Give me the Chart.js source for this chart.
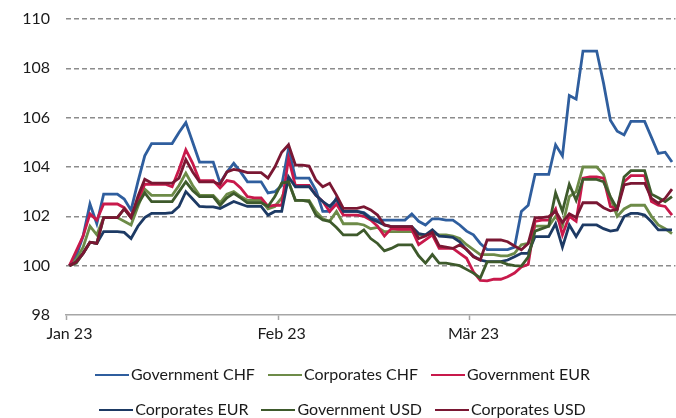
<!DOCTYPE html>
<html>
<head>
<meta charset="utf-8">
<script src="https://cdn.jsdelivr.net/npm/chart.js@4/dist/chart.umd.min.js"></script>
<style>
  html, body { margin: 0; padding: 0; background: #fff; }
  #wrap { width: 676px; height: 418px; }
</style>
</head>
<body>
<div id="wrap"><canvas id="chart"></canvas></div>
<script>
// Tage 1. Jan – 30. Mär 2023 (Wochenenden mit Vortageswert)
const days = [];
for (let d = new Date(2023, 0, 1); d <= new Date(2023, 2, 30); d.setDate(d.getDate() + 1)) {
  days.push(d.toISOString().slice(0, 10));
}
const monthLabels = { 0: 'Jan 23', 31: 'Feb 23', 59: 'Mär 23' };
const yTicks = [98, 100, 102, 104, 106, 108, 110];

const govCHF = [
  100.0, 100.4, 101.2, 102.5, 101.7, 102.9, 102.9, 102.9, 102.7, 102.25,
  103.4, 104.45, 104.95, 104.95, 104.95, 104.95, 105.4, 105.8, 105.0, 104.2,
  104.2, 104.2, 103.35, 103.8, 104.15, 103.8, 103.4, 103.4, 103.4, 102.95,
  103.0, 103.25, 104.75, 103.55, 103.55, 103.55, 103.05, 102.2, 102.2, 102.75,
  102.2, 102.2, 102.2, 102.15, 101.95, 101.85, 101.85, 101.85, 101.85, 101.85,
  102.1, 101.8, 101.65, 101.9, 101.9, 101.85, 101.85, 101.65, 101.4, 101.25,
  100.9, 100.65, 100.65, 100.65, 100.65, 100.75, 102.2, 102.45, 103.7, 103.7,
  103.7, 104.9, 104.45, 106.9, 106.75, 108.7, 108.7, 108.7, 107.4, 105.9,
  105.45, 105.3, 105.85, 105.85, 105.85, 105.2, 104.55, 104.6, 104.2
];
const corpCHF = [
  100.0, 100.25, 100.75, 101.6, 101.25, 101.95, 101.95, 101.95, 101.8, 101.65,
  102.4, 103.1, 102.85, 102.85, 102.85, 102.85, 103.25, 103.75, 103.25, 102.85,
  102.85, 102.85, 102.55, 102.9, 103.0, 102.8, 102.65, 102.65, 102.65, 102.3,
  102.4, 102.75, 103.4, 102.65, 102.65, 102.65, 102.2, 101.9, 101.8, 102.2,
  101.7, 101.7, 101.7, 101.65, 101.5, 101.55, 101.38, 101.38, 101.38, 101.38,
  101.38, 101.25, 101.25, 101.3, 101.25, 101.25, 101.2, 101.1, 100.85, 100.65,
  100.45, 100.45, 100.45, 100.4, 100.4, 100.5, 100.85, 100.9, 101.6, 101.6,
  101.6, 102.0, 101.6, 102.8, 103.0, 104.0, 104.0, 104.0, 103.7, 102.75,
  102.0, 102.3, 102.45, 102.45, 102.45, 102.0, 101.65, 101.5, 101.3
];
const govEUR = [
  100.0, 100.6, 101.2, 102.1, 101.85, 102.5, 102.5, 102.5, 102.35, 102.0,
  102.65, 103.3, 103.3, 103.3, 103.3, 103.2, 103.9, 104.7, 104.15, 103.45,
  103.45, 103.45, 103.15, 103.45, 103.4, 103.15, 102.8, 102.75, 102.75, 102.4,
  102.45, 102.45, 104.35, 103.25, 103.25, 103.25, 102.85, 102.6, 102.2, 102.5,
  102.05, 102.05, 102.05, 102.0, 101.85, 101.6, 101.2, 101.5, 101.47, 101.47,
  101.47, 100.85, 101.05, 101.25, 100.7, 100.7, 100.7, 100.5, 100.3, 99.75,
  99.4, 99.38, 99.45, 99.45, 99.55, 99.7, 99.95, 100.05, 101.8, 101.85,
  101.85, 102.3, 101.25, 102.0, 101.8, 103.55, 103.6, 103.6, 103.55, 102.4,
  102.3, 103.4, 103.65, 103.65, 103.65, 102.6, 102.45, 102.4, 102.05
];
const corpEUR = [
  100.0, 100.15, 100.5, 100.95, 100.9, 101.38, 101.38, 101.38, 101.35, 101.1,
  101.6, 101.95, 102.12, 102.12, 102.12, 102.15, 102.4, 103.0, 102.7, 102.4,
  102.38, 102.38, 102.32, 102.46, 102.6, 102.5, 102.4, 102.4, 102.4, 102.05,
  102.2, 102.2, 103.6, 103.2, 103.2, 103.2, 102.85, 102.6, 102.4, 102.7,
  102.2, 102.2, 102.2, 102.12, 101.9, 101.78, 101.65, 101.58, 101.58, 101.58,
  101.58, 101.3, 101.25, 101.45, 101.2, 101.18, 101.15, 100.97, 100.64, 100.38,
  100.23, 100.16, 100.16, 100.16, 100.23, 100.36, 100.5, 100.5, 101.18, 101.18,
  101.18, 101.7, 100.75, 101.65, 101.18, 101.65, 101.65, 101.65, 101.5, 101.4,
  101.45, 101.99, 102.12, 102.12, 102.05, 101.78, 101.45, 101.45, 101.45
];
const govUSD = [
  100.0, 100.1, 100.5, 100.95, 100.9, 101.95, 101.95, 101.95, 102.3, 101.95,
  102.5, 102.95, 102.6, 102.6, 102.6, 102.6, 103.0, 103.4, 103.05, 102.8,
  102.8, 102.8, 102.45, 102.75, 102.93, 102.75, 102.55, 102.55, 102.55, 102.4,
  102.8, 103.35, 103.4, 102.65, 102.65, 102.6, 102.05, 101.85, 101.8, 101.55,
  101.25, 101.25, 101.25, 101.45, 101.1, 100.9, 100.6, 100.7, 100.84, 100.84,
  100.84, 100.4, 100.1, 100.45, 100.1, 100.1, 100.05, 100.0, 99.85, 99.7,
  99.5, 100.15, 100.15, 100.15, 100.05, 100.0, 99.98, 100.35, 101.4, 101.5,
  101.6, 102.95, 102.2, 103.3, 102.65, 103.5, 103.5, 103.5, 103.4, 102.8,
  102.3, 103.6, 103.85, 103.85, 103.85, 102.9, 102.75, 102.6, 102.8
];
const corpUSD = [
  100.0, 100.15, 100.5, 100.95, 100.9, 101.95, 101.95, 101.95, 102.3, 101.95,
  102.8, 103.5, 103.35, 103.35, 103.35, 103.35, 103.55, 104.3, 103.8, 103.4,
  103.4, 103.4, 103.3, 103.8, 103.9, 103.85, 103.77, 103.77, 103.77, 103.55,
  104.0, 104.6, 104.9, 104.08, 104.08, 104.04, 103.47, 103.2, 103.34, 102.86,
  102.32, 102.32, 102.32, 102.39, 102.26, 102.05, 101.65, 101.58, 101.58, 101.58,
  101.58, 101.1, 101.2, 101.35, 100.8, 100.75, 100.7, 100.84, 100.66, 100.36,
  100.23, 101.04, 101.04, 101.04, 100.97, 100.8, 100.64, 100.9, 101.95, 101.95,
  101.99, 102.2, 101.75, 102.1, 101.95, 102.55, 102.55, 102.55, 102.35, 102.22,
  102.28, 103.27, 103.34, 103.34, 103.34, 102.73, 102.53, 102.73, 103.1
];

const seriesNames = ['Government CHF', 'Corporates CHF', 'Government EUR', 'Corporates EUR', 'Government USD', 'Corporates USD'];
const seriesData = [govCHF, corpCHF, govEUR, corpEUR, govUSD, corpUSD];
const seriesColors = ['#2f5e9e', '#6d8b48', '#c8194b', '#1d3a64', '#3e5a2c', '#7a1733'];

const textColor = '#1a1a1a';
const gridColor = '#8c8c8c';
const font = { family: 'Lato', size: 16 };

// Legendensymbol: kurze Linie, 34 px breit
const legendLine = (color) => {
  const c = document.createElement('canvas');
  c.width = 34;
  c.height = 4;
  const g = c.getContext('2d');
  g.strokeStyle = color;
  g.lineWidth = 2;
  g.beginPath();
  g.moveTo(0, 2);
  g.lineTo(34, 2);
  g.stroke();
  return c;
};

const datasets = seriesNames.map((name, i) => ({
  label: name,
  data: seriesData[i],
  borderColor: seriesColors[i],
  backgroundColor: seriesColors[i],
  borderWidth: 2.8,
  pointRadius: 0,
  tension: 0,
  order: seriesNames.length - i // spätere Reihen liegen oben
}));

const defaultLabels = Chart.defaults.plugins.legend.labels.generateLabels;

// Legende etwas nach rechts rücken
const legendShift = {
  id: 'legendShift',
  afterLayout(chart) {
    chart.legend.left += 6;
    chart.legend.right += 6;
  }
};

new Chart(document.getElementById('chart'), {
  type: 'line',
  data: { labels: days, datasets: datasets },
  plugins: [legendShift],
  options: {
    responsive: true,
    maintainAspectRatio: false,
    animation: false,
    layout: { padding: { top: 19, right: -3, left: 0, bottom: -10 } },
    plugins: {
      tooltip: { enabled: false },
      legend: {
        position: 'bottom',
        labels: {
          font: font,
          color: textColor,
          usePointStyle: true,
          pointStyleWidth: 22,
          padding: 19,
          sort: (a, b) => a.datasetIndex - b.datasetIndex,
          generateLabels: (chart) => defaultLabels(chart).map((l) => ({
            ...l,
            pointStyle: legendLine(seriesColors[l.datasetIndex])
          }))
        }
      }
    },
    scales: {
      x: {
        type: 'category',
        offset: true,
        grid: {
          offset: true,
          drawOnChartArea: false,
          drawTicks: true,
          tickLength: 5,
          tickWidth: 1.5,
          tickColor: (ctx) => (monthLabels[ctx.index] ? '#a6a6a6' : 'transparent')
        },
        border: { display: true, color: '#a6a6a6', width: 1.5 },
        ticks: {
          autoSkip: false,
          maxRotation: 0,
          minRotation: 0,
          padding: 4,
          color: textColor,
          font: font,
          callback: (value, index) => monthLabels[index] || ''
        },
        afterFit: (scale) => { scale.height = 33; }
      },
      y: {
        min: 98,
        max: 110,
        afterBuildTicks: (scale) => { scale.ticks = yTicks.map((v) => ({ value: v })); },
        grid: {
          drawTicks: true,
          tickLength: 16,
          tickColor: 'transparent',
          color: (ctx) => (ctx.tick && ctx.tick.value === 98 ? 'transparent' : gridColor),
          lineWidth: 1.5
        },
        border: { display: false, dash: [5, 3], dashOffset: 0 },
        ticks: { color: textColor, font: font, padding: 0 },
        afterFit: (scale) => { scale.width = 66; }
      }
    }
  }
});
</script>
</body>
</html>
